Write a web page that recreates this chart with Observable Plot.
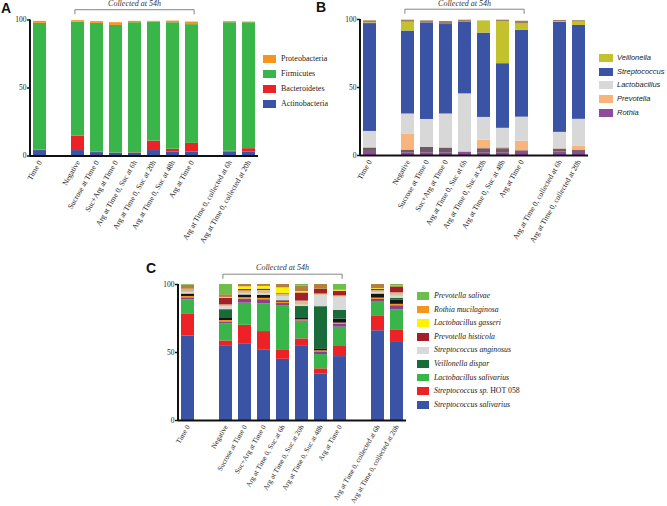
<!DOCTYPE html>
<html><head><meta charset="utf-8">
<script src="https://cdn.jsdelivr.net/npm/d3@7"></script>
<script src="https://cdn.jsdelivr.net/npm/@observablehq/plot@0.6"></script>
<style>
body{margin:0;background:#fff;}
#root{position:relative;width:667px;height:506px;overflow:hidden;background:#fff;}
.pane{position:absolute;}
.letter{position:absolute;font-family:"Liberation Sans",Arial,sans-serif;font-weight:bold;font-size:14px;line-height:14px;color:#111;}
.sw{position:absolute;}
.lab{position:absolute;line-height:10px;white-space:nowrap;}
g[aria-label="x-axis tick label"]{font-size:7.6px;}
.pc g[aria-label="x-axis tick label"]{font-size:7.2px;}
g[aria-label="y-axis tick label"]{font-size:7.5px;}
</style>
</head><body><div id="root"></div>
<script>
// ---------- shared categories ----------
const samples = ["Time 0","Negative","Sucrose at Time 0","Suc+Arg at Time 0","Arg at Time 0, Suc at 6h","Arg at Time 0, Suc at 20h","Arg at Time 0, Suc at 48h","Arg at Time 0","Arg at Time 0, collected at 6h","Arg at Time 0, collected at 20h"];
const slots = ["Time 0","gap1","Negative","Sucrose at Time 0","Suc+Arg at Time 0","Arg at Time 0, Suc at 6h","Arg at Time 0, Suc at 20h","Arg at Time 0, Suc at 48h","Arg at Time 0","gap2","Arg at Time 0, collected at 6h","Arg at Time 0, collected at 20h"];
const bracketFrom = "Negative", bracketTo = "Arg at Time 0", bracketLabel = "Collected at 54h";
const yTicks = [0, 50, 100];

// ---------- panel A: phyla (bottom -> top) ----------
const phylaA = ["Actinobacteria","Bacteroidetes","Firmicutes","Proteobacteria"];
const colorsA = ["#3a53a4","#ec2227","#3ab54a","#f7941e"];
const actinobacteria = [4,4,2.5,2,2,4,3,3,3,3];
const bacteroidetes  = [0.3,10.7,0.3,0.2,0.3,7,2,6.3,0.5,2.4];
const firmicutes     = [93.2,83.8,94.7,93.8,95.7,87.5,93,87.3,94.5,92.6];
const proteobacteria = [1.5,1,1.3,2,1,0.5,1.2,1.9,0.8,0.5];
const legendA = ["Proteobacteria","Firmicutes","Bacteroidetes","Actinobacteria"];

// ---------- panel B: genera (bottom -> top) ----------
const generaB = ["Rothia","Other (low)","Prevotella","Lactobacillus","Streptococcus","Veillonella","Other (high)"];
const colorsB = ["#8e4b9c","#6e5a62","#f9b47c","#d8d8d8","#3a53a4","#c3c22e","#a07f5a"];
const rothia        = [3,2,2,2,2.5,2,2,3,2.5,3];
const otherLowB     = [2.5,2,4,3.5,0,3,3,0.5,2.2,1];
const prevotella    = [0.5,11.5,0,0,0.3,6.3,1,7,0.3,3];
const lactobacillus = [11.7,15,20.5,25,42.5,16.7,14,17.7,12,19.6];
const streptococcus = [79.3,61,71,65.8,52.7,62,47.5,64,80.8,69];
const veillonella   = [0.5,6.5,0,0,0,9,31,4.5,0.5,2.5];
const otherHighB    = [1.5,1.5,1.5,2.2,1.5,0,1,2,1,1];
const legendB = ["Veillonella","Streptococcus","Lactobacillus","Prevotella","Rothia"];

// ---------- panel C: species (bottom -> top) ----------
const speciesC = ["Streptococcus salivarius","Streptococcus sp. HOT 058","Lactobacillus salivarius","Other (purple)","Rothia mucilaginosa","Other (black)","Veillonella dispar","Streptococcus anginosus","Other (tan)","Prevotella histicola","Lactobacillus gasseri","Other (brown)","Prevotella salivae"];
const colorsC = ["#3a53a4","#ec2227","#3ab54a","#8b3f8f","#f7941e","#151515","#1a6b3a","#d9d9d9","#d6c08f","#a3202a","#fff200","#b5803d","#6dbe4b"];
const sSalivarius   = [62,54.5,56,52,45,55,34,47,66,58];
const sHOT058       = [16,4,14,13.4,6.5,5,4,7.4,11,8.7];
const lSalivarius   = [10.7,12.5,16.3,20.4,33,12.3,10.5,14.2,10,14.7];
const otherPurple   = [1.5,1.5,3,3,1.5,1,2,2,2,3];
const rMucilaginosa = [1,1,1,1,1,0.7,0.7,1,1,1];
const otherBlack    = [1.8,1.5,2,2.3,1,1,1.5,3,3,3];
const vDispar       = [0,6.5,0,0,0,8.8,31,6.3,0,1.5];
const sAnginosus    = [1,2,1,1,3,1,8.3,9.7,1,1.5];
const otherTan      = [1.5,1.5,2,2.5,2,3,1,1,1.5,2.5];
const pHisticola    = [0.5,5,1,1,0.5,6,3.5,3.5,1,4];
const lGasseri      = [0.5,0.5,2,2,4,1,0,0.5,0.5,0];
const otherBrown    = [3,2,1.7,1.4,2.5,4,3.5,0.4,3,1];
const pSalivae      = [0.5,7.5,0,0,0,1.2,0,4,0,1.1];
const legendC = ["Prevotella salivae","Rothia mucilaginosa","Lactobacillus gasseri","Prevotella histicola","Streptococcus anginosus","Veillonella dispar","Lactobacillus salivarius","Streptococcus sp. HOT 058","Streptococcus salivarius"];

function tidy(taxa, series) {
  const rows = [];
  samples.forEach((s, i) => taxa.forEach((t, j) => rows.push({sample: s, taxon: t, value: series[j][i]})));
  return rows;
}
const dataA = tidy(phylaA, [actinobacteria, bacteroidetes, firmicutes, proteobacteria]);
const dataB = tidy(generaB, [rothia, otherLowB, prevotella, lactobacillus, streptococcus, veillonella, otherHighB]);
const dataC = tidy(speciesC, [sSalivarius, sHOT058, lSalivarius, otherPurple, rMucilaginosa, otherBlack, vDispar, sAnginosus, otherTan, pHisticola, lGasseri, otherBrown, pSalivae]);

const root = document.getElementById("root");
const SERIF = "'Liberation Serif','Times New Roman',serif";

function panel(data, taxa, colors, left, top, mt, mb, labelY, cls) {
  const chart = Plot.plot({
    width: 262, height: mt + 136 + mb,
    marginLeft: 30, marginRight: 4, marginTop: mt, marginBottom: mb,
    style: {fontFamily: SERIF, background: "transparent", overflow: "visible", color: "#1a1a1a"},
    x: {domain: slots, paddingInner: 0.34, paddingOuter: 0.15, axis: null},
    y: {domain: [0, 100], axis: null},
    color: {domain: taxa, range: colors},
    marks: [
      Plot.barY(data, {x: "sample", y: "value", fill: "taxon", order: taxa}),
      Plot.axisY({ticks: yTicks, tickSize: 3, tickPadding: 1, fontSize: 7.5, strokeWidth: 1.5, label: null}),
      Plot.axisX({ticks: samples, tickSize: 0, tickPadding: 5, tickRotate: -60, fontSize: 7.6, label: null}),
      Plot.ruleY([0], {strokeWidth: 2, stroke: "#111"})
    ]
  });
  const sx = chart.scale("x"), sy = chart.scale("y");
  const svg = d3.select(chart);
  // left axis line
  const x0 = 30;
  svg.append("line").attr("x1", x0).attr("x2", x0).attr("y1", sy.apply(100)).attr("y2", sy.apply(0) + 1)
     .attr("stroke", "#111").attr("stroke-width", 2);
  // bracket
  const bw = sx.bandwidth;
  const xa = sx.apply(bracketFrom) + bw * 0.3, xb = sx.apply(bracketTo) + bw * 0.7;
  const yh = sy.apply(107.2), yl = sy.apply(103.8);
  svg.append("path").attr("d", `M${xa},${yl}V${yh}H${xb}V${yl}`).attr("fill", "none").attr("stroke", "#666").attr("stroke-width", 0.8);
  svg.append("text").attr("x", (xa + xb) / 2).attr("y", sy.apply(labelY)).attr("text-anchor", "middle")
     .attr("dominant-baseline", "middle").attr("font-style", "italic").attr("font-size", 8).attr("fill", "#333").text(bracketLabel);
  const wrap = document.createElement("div");
  wrap.className = "pane " + (cls || "");
  wrap.style.left = left + "px"; wrap.style.top = top + "px";
  wrap.appendChild(chart);
  root.appendChild(wrap);
}

panel(dataA, phylaA, colorsA, 0, 0, 19.5, 100, 111.3);
panel(dataB, generaB, colorsB, 330, 0, 19, 100, 110.6);
panel(dataC, speciesC, colorsC, 148, 264, 20, 86, 111.3, "pc");

function legend(items, taxa, colors, sx, sw, sh, tx, y0, dy, font, fmt) {
  items.forEach((name, i) => {
    const c = colors[taxa.indexOf(name)];
    const y = y0 + i * dy;
    const s = document.createElement("div");
    s.className = "sw";
    Object.assign(s.style, {left: sx + "px", top: (y - sh / 2) + "px", width: sw + "px", height: sh + "px", background: c});
    root.appendChild(s);
    const t = document.createElement("div");
    t.className = "lab";
    Object.assign(t.style, {left: tx + "px", top: (y - 5) + "px", font: font, color: "#222"});
    t.innerHTML = fmt(name);
    root.appendChild(t);
  });
}
legend(legendA, phylaA, colorsA, 263, 13, 8, 281, 58.5, 15.2, "8px " + SERIF, n => n);
legend(legendB, generaB, colorsB, 599, 14, 8, 617, 58, 13.7, "italic 7.5px 'Liberation Sans',Arial,sans-serif", n => n);
legend(legendC, speciesC, colorsC, 417, 12, 7.5, 434, 296, 13.6, "7.8px " + SERIF,
  n => n.includes("HOT") ? "<i>Streptococcus sp.</i> HOT 058" : "<i>" + n + "</i>");

[["A", 1, 1], ["B", 316, 0], ["C", 146, 261]].forEach(([l, x, y]) => {
  const d = document.createElement("div");
  d.className = "letter"; d.style.left = x + "px"; d.style.top = y + "px"; d.textContent = l;
  root.appendChild(d);
});
</script>
</body></html>
